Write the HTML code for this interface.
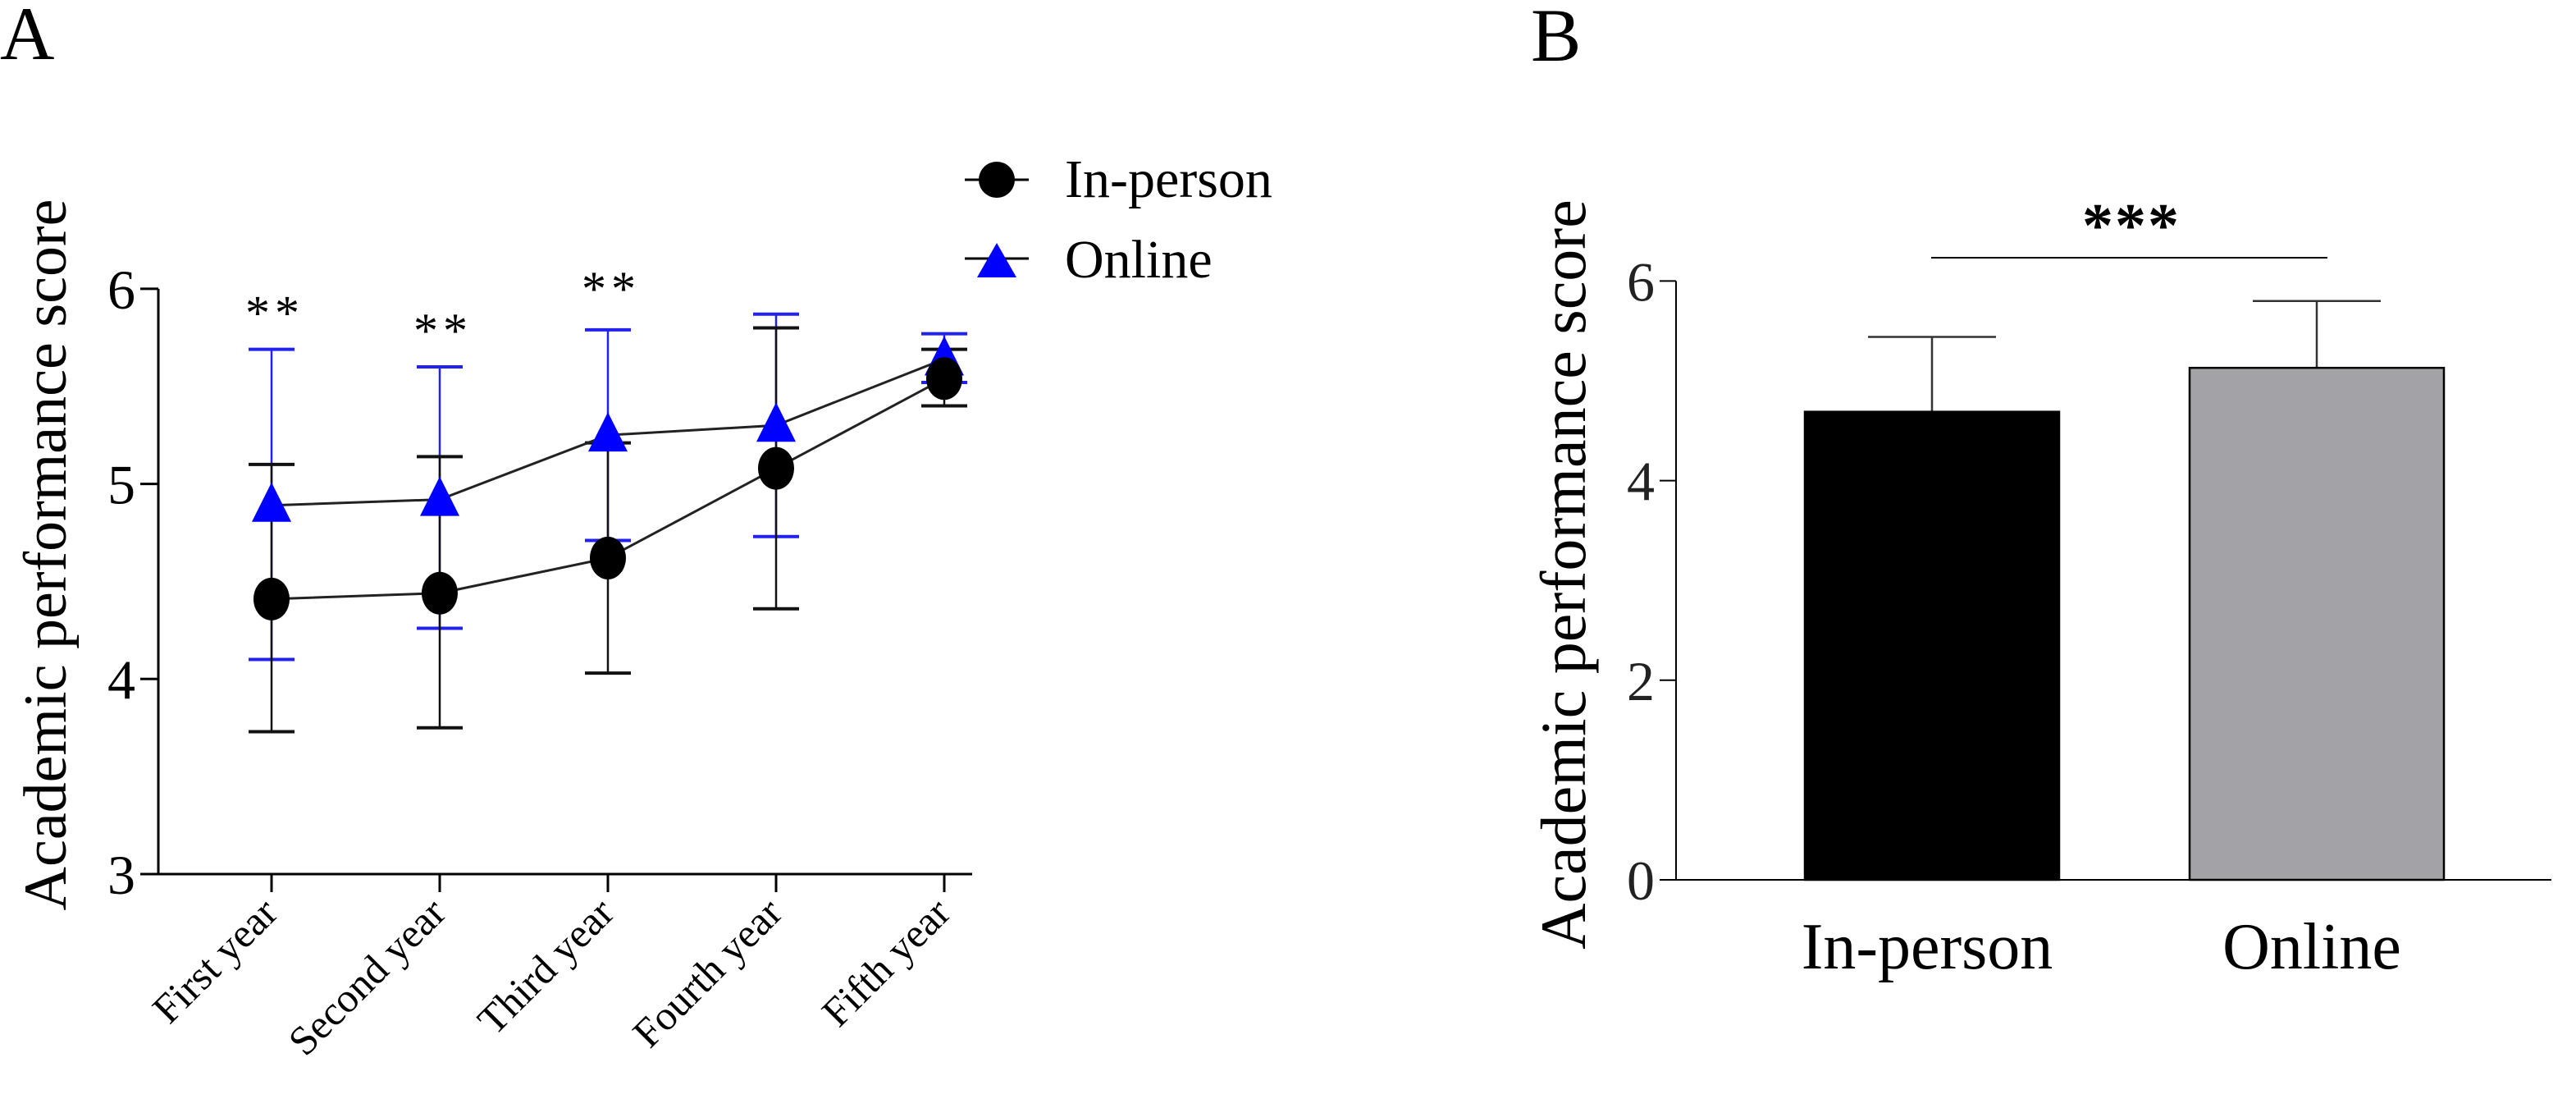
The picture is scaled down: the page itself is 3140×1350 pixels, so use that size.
<!DOCTYPE html>
<html><head><meta charset="utf-8"><style>
html,body{margin:0;padding:0;background:#fff;}
svg{display:block;font-family:"Liberation Serif",serif;}
</style></head><body>
<svg id="chart" width="3140" height="1350" viewBox="0 0 3140 1350" xmlns="http://www.w3.org/2000/svg">
<text x="0" y="72" font-size="92">A</text>
<text x="1866" y="74" font-size="92">B</text>
<g id="pa"></g>
<g id="pb"></g>
</svg>
<script>
const years = ["First year","Second year","Third year","Fourth year","Fifth year"];
const inPersonMean = [4.41,4.44,4.62,5.08,5.54];
const inPersonUpper = [5.10,5.14,5.21,5.80,5.69];
const inPersonLower = [3.73,3.75,4.03,4.36,5.40];
const onlineMean = [4.89,4.92,5.25,5.30,5.64];
const onlineUpper = [5.69,5.60,5.79,5.87,5.77];
const onlineLower = [4.10,4.26,4.71,4.73,5.52];
const sigYears = [0,1,2];
const sigLabels = ["**","**","**"];
const aTicks = [3,4,5,6];
const groups = ["In-person","Online"];
const groupMeans = [4.69,5.13];
const groupUpper = [5.44,5.80];
const bTicks = [0,2,4,6];
const groupColors = ["#000000","#a3a2a6"];

const NS="http://www.w3.org/2000/svg";
function mk(parent,tag,attrs,text){const e=document.createElementNS(NS,tag);for(const k in attrs)e.setAttribute(k,attrs[k]);if(text!==undefined)e.textContent=text;parent.appendChild(e);return e;}

// Panel A
const pa=document.getElementById('pa');
const ax0=193, ax1=1185;
const ay=v=>1065-(v-3)*237.7;
const axX=i=>331+i*205;
let e;
e=mk(pa,'line',{x1:ax0,y1:ay(3),x2:ax0,y2:ay(6),stroke:'#000','stroke-width':3});


e=mk(pa,'line',{x1:ax0,y1:ay(3),x2:ax1,y2:ay(3),stroke:'#000','stroke-width':3});


aTicks.forEach(t=>{
  mk(pa,'line',{x1:ax0-22,y1:ay(t),x2:ax0,y2:ay(t),stroke:'#000','stroke-width':3});
  e=mk(pa,'text',{x:ax0-28,y:ay(t)+24,'font-size':68,'text-anchor':'end'},String(t));
  
  
});
years.forEach((y,i)=>{
  const x=axX(i);
  mk(pa,'line',{x1:x,y1:ay(3),x2:x,y2:ay(3)+22,stroke:'#000','stroke-width':3});
  e=mk(pa,'text',{x:x+10,y:ay(3)+50,'font-size':50,'text-anchor':'end',transform:`rotate(-45 ${x+10} ${ay(3)+50})`},y);
  
  
});
e=mk(pa,'text',{x:0,y:0,'font-size':74,'text-anchor':'middle',transform:'translate(80 676) rotate(-90)'},'Academic performance score');


function errbar(g,x,lo,hi,col,w){
  mk(g,'line',{x1:x,y1:ay(lo),x2:x,y2:ay(hi),stroke:col,'stroke-width':w});
  mk(g,'line',{x1:x-28,y1:ay(lo),x2:x+28,y2:ay(lo),stroke:col,'stroke-width':4});
  mk(g,'line',{x1:x-28,y1:ay(hi),x2:x+28,y2:ay(hi),stroke:col,'stroke-width':4});
}
years.forEach((y,i)=>{
  e=mk(pa,'g',{});
  
  
  errbar(e,axX(i),onlineLower[i],onlineUpper[i],'#2222ee',2.5);
  e=mk(pa,'g',{});
  
  
  errbar(e,axX(i),inPersonLower[i],inPersonUpper[i],'#111',2.5);
});
e=mk(pa,'polyline',{points:onlineMean.map((v,i)=>axX(i)+','+ay(v)).join(' '),fill:'none',stroke:'#222','stroke-width':3});


e=mk(pa,'polyline',{points:inPersonMean.map((v,i)=>axX(i)+','+ay(v)).join(' '),fill:'none',stroke:'#222','stroke-width':3});


onlineMean.forEach((v,i)=>{
  const x=axX(i),y=ay(v);
  e=mk(pa,'polygon',{points:`${x},${y-28} ${x-24},${y+20} ${x+24},${y+20}`,fill:'#0000ff'});
  
  
});
inPersonMean.forEach((v,i)=>{
  e=mk(pa,'ellipse',{cx:axX(i),cy:ay(v),rx:22,ry:26,fill:'#000'});
  
  
});
sigYears.forEach((k,j)=>{
  e=mk(pa,'text',{x:axX(k)+4,y:ay(onlineUpper[k])-24+(k===2?-6:0),'font-size':60,'text-anchor':'middle','letter-spacing':6},sigLabels[j]);
  
  
});
// legend
e=mk(pa,'g',{});


const lg=e;
e=mk(lg,'g',{});


mk(e,'line',{x1:1176,y1:219,x2:1254,y2:219,stroke:'#000','stroke-width':3});
mk(e,'circle',{cx:1215,cy:219,r:22,fill:'#000'});
mk(e,'text',{x:1298,y:240,'font-size':66},'In-person');
e=mk(lg,'g',{});


mk(e,'line',{x1:1176,y1:315,x2:1254,y2:315,stroke:'#000','stroke-width':3});
mk(e,'polygon',{points:'1215,296 1191,338 1239,338',fill:'#0000ff'});
mk(e,'text',{x:1298,y:338,'font-size':66},'Online');

// Panel B
const pb=document.getElementById('pb');
const bx0=2043, bx1=3110;
const by=v=>1072-v*121.6;
const barL=[2200,2669], barW=310;
e=mk(pb,'line',{x1:bx0,y1:by(0),x2:bx0,y2:by(6),stroke:'#000','stroke-width':2});


e=mk(pb,'line',{x1:bx0-20,y1:by(0),x2:bx1,y2:by(0),stroke:'#000','stroke-width':2});


bTicks.forEach(t=>{
  mk(pb,'line',{x1:bx0-20,y1:by(t),x2:bx0,y2:by(t),stroke:'#000','stroke-width':2});
  e=mk(pb,'text',{x:bx0-26,y:by(t)+24,'font-size':68,'text-anchor':'end',fill:'#222'},String(t));
  
  
});
e=mk(pb,'text',{x:0,y:0,'font-size':78,'text-anchor':'middle',transform:'translate(1932 700) rotate(-90)'},'Academic performance score');


groups.forEach((g,i)=>{
  const cx=barL[i]+barW/2;
  e=mk(pb,'line',{x1:cx,y1:by(groupMeans[i]),x2:cx,y2:by(groupUpper[i]),stroke:'#333','stroke-width':2.5});
  
  
  mk(pb,'line',{x1:cx-78,y1:by(groupUpper[i]),x2:cx+78,y2:by(groupUpper[i]),stroke:'#333','stroke-width':2.5});
  e=mk(pb,'rect',{x:barL[i],y:by(groupMeans[i]),width:barW,height:by(0)-by(groupMeans[i]),fill:groupColors[i],stroke:'#000','stroke-width':2.5});
  
  
  e=mk(pb,'text',{x:cx-6,y:1180,'font-size':80,'text-anchor':'middle'},g);
  
  
});
e=mk(pb,'line',{x1:2354,y1:314,x2:2837,y2:314,stroke:'#000','stroke-width':2});


e=mk(pb,'text',{x:2598,y:300,'font-size':76,'font-weight':'bold','text-anchor':'middle','letter-spacing':2},'***');


</script>
</body></html>
